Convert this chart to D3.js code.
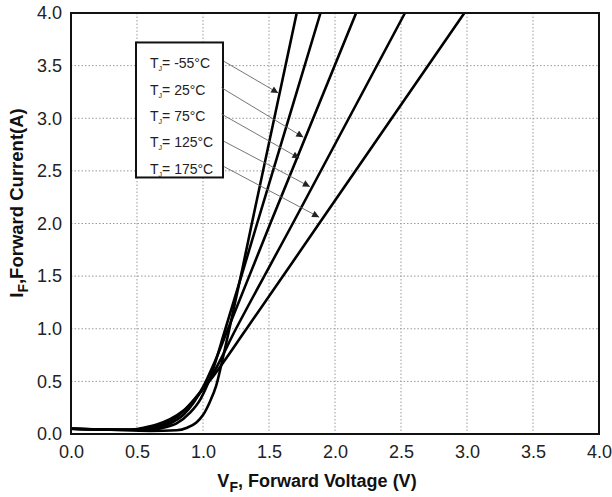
<!DOCTYPE html>
<html>
<head>
<meta charset="utf-8">
<script src="https://cdn.jsdelivr.net/npm/d3@7"></script>
<style>
  body { margin: 0; background: #fff; }
  svg { display: block; font-family: "Liberation Sans", Arial, sans-serif; }
</style>
</head>
<body>
<svg class="chart" width="612" height="497"></svg>
<script>
// forward voltage / current
var temps = ["-55", "25", "75", "125", "175"];

var vfM55  = [0, 0.3, 0.6, 0.8, 0.88, 0.95, 1.0, 1.05, 1.1, 1.15, 1.20, 1.30, 1.37, 1.71];
var ifM55  = [0.05, 0.04, 0.03, 0.035, 0.06, 0.11, 0.18, 0.30, 0.46, 0.72, 1.0, 1.58, 2.0, 4.0];
var vf25   = [0, 0.3, 0.6, 0.7, 0.8, 0.9, 0.98, 1.05, 1.17, 1.41, 1.89];
var if25   = [0.05, 0.04, 0.04, 0.06, 0.10, 0.20, 0.33, 0.52, 1.0, 2.0, 4.0];
var vf75   = [0, 0.55, 0.65, 0.75, 0.85, 0.93, 1.01, 1.08, 1.19, 1.51, 2.16];
var if75   = [0.05, 0.04, 0.06, 0.10, 0.18, 0.30, 0.47, 0.66, 1.0, 2.0, 4.0];
var vf125  = [0, 0.5, 0.6, 0.7, 0.8, 0.9, 0.98, 1.05, 1.25, 1.68, 2.53];
var if125  = [0.05, 0.04, 0.06, 0.09, 0.16, 0.28, 0.40, 0.52, 1.0, 2.0, 4.0];
var vf175  = [0, 0.45, 0.55, 0.65, 0.75, 0.85, 0.95, 1.06, 1.33, 1.88, 2.98];
var if175  = [0.05, 0.04, 0.06, 0.09, 0.14, 0.22, 0.35, 0.52, 1.0, 2.0, 4.0];

// legend arrows: start and tip in data units
var arrowFromV = [1.16, 1.14, 1.14, 1.16, 1.16];
var arrowFromI = [3.54, 3.29, 3.04, 2.78, 2.54];
var arrowToV   = [1.57, 1.76, 1.73, 1.81, 1.88];
var arrowToI   = [3.24, 2.82, 2.62, 2.35, 2.06];

var xTicks = [0, 0.5, 1.0, 1.5, 2.0, 2.5, 3.0, 3.5, 4.0];
var yTicks = [0, 0.5, 1.0, 1.5, 2.0, 2.5, 3.0, 3.5, 4.0];

var series = [
  d3.zip(vfM55, ifM55), d3.zip(vf25, if25), d3.zip(vf75, if75),
  d3.zip(vf125, if125), d3.zip(vf175, if175)
];

var margin = {top: 13, right: 13, bottom: 63, left: 71},
    width = 612 - margin.left - margin.right,
    height = 497 - margin.top - margin.bottom;

var svg = d3.select(".chart").append("g")
    .attr("transform", "translate(" + margin.left + "," + margin.top + ")");

var defs = d3.select(".chart").append("defs");
defs.append("marker")
    .attr("id", "head")
    .attr("viewBox", "0 0 10 10")
    .attr("refX", 10).attr("refY", 5)
    .attr("markerWidth", 9).attr("markerHeight", 7)
    .attr("markerUnits", "userSpaceOnUse")
    .attr("orient", "auto")
    .append("path").attr("d", "M0,0L10,5L0,10Z").attr("fill", "#222");

var x = d3.scaleLinear().domain([0, 4]).range([0, width]);
var y = d3.scaleLinear().domain([0, 4]).range([height, 0]);

// grid
svg.append("g").selectAll("line").data(xTicks.slice(1, -1)).enter().append("line")
    .attr("x1", x).attr("x2", x).attr("y1", 0).attr("y2", height)
    .attr("stroke", "#9a9a9a").attr("stroke-width", 1).attr("stroke-dasharray", "1.5,2");
svg.append("g").selectAll("line").data(yTicks.slice(1, -1)).enter().append("line")
    .attr("y1", y).attr("y2", y).attr("x1", 0).attr("x2", width)
    .attr("stroke", "#9a9a9a").attr("stroke-width", 1).attr("stroke-dasharray", "1.5,2");

// axes (labels only)
var xAxis = svg.append("g").attr("transform", "translate(0," + height + ")")
    .call(d3.axisBottom(x).tickValues(xTicks).tickFormat(d3.format(".1f")).tickSize(0).tickPadding(11));
var yAxis = svg.append("g")
    .call(d3.axisLeft(y).tickValues(yTicks).tickFormat(d3.format(".1f")).tickSize(0).tickPadding(9));
[xAxis, yAxis].forEach(function(a) {
    a.select(".domain").remove();
    a.selectAll("text").attr("font-size", 18).attr("fill", "#222")
        .attr("font-family", "Liberation Sans, Arial, sans-serif");
});

// curves
var line = d3.line()
    .x(function(d) { return x(d[0]); })
    .y(function(d) { return y(d[1]); })
    .curve(d3.curveMonotoneX);

svg.append("g").selectAll("path").data(series).enter().append("path")
    .attr("d", line)
    .attr("fill", "none")
    .attr("stroke", "#000")
    .attr("stroke-width", 2.6);

// frame
svg.append("rect")
    .attr("width", width).attr("height", height)
    .attr("fill", "none").attr("stroke", "#111").attr("stroke-width", 2);

// legend box
var lg = svg.append("g");
lg.append("rect")
    .attr("x", x(0.5) - 1).attr("y", y(3.72))
    .attr("width", 87).attr("height", 135)
    .attr("fill", "#fff").attr("stroke", "#111").attr("stroke-width", 2);

temps.forEach(function(t, i) {
    var ty = y(3.54) + 2 + i * 26.3;
    var txt = lg.append("text")
        .attr("x", x(0.5) + 13).attr("y", ty + 5)
        .attr("font-size", 14).attr("fill", "#222");
    txt.append("tspan").text("T");
    txt.append("tspan").attr("font-size", 7).attr("dy", 3).text("J");
    txt.append("tspan").attr("dy", -3).text("= " + t + "°C");
});

lg.selectAll("line.arrow").data(temps).enter().append("line")
    .attr("class", "arrow")
    .attr("x1", function(d, i) { return x(arrowFromV[i]); })
    .attr("y1", function(d, i) { return y(arrowFromI[i]); })
    .attr("x2", function(d, i) { return x(arrowToV[i]); })
    .attr("y2", function(d, i) { return y(arrowToI[i]); })
    .attr("stroke", "#666").attr("stroke-width", 0.9)
    .attr("marker-end", "url(#head)");

// axis titles
var xt = d3.select(".chart").append("text")
    .attr("x", 317).attr("y", 487)
    .attr("text-anchor", "middle")
    .attr("font-size", 18).attr("font-weight", "bold").attr("fill", "#111");
xt.append("tspan").text("V");
xt.append("tspan").attr("dy", 5).attr("font-size", 14).text("F");
xt.append("tspan").attr("dy", -5).text(", Forward Voltage (V)");

var yt = d3.select(".chart").append("text")
    .attr("transform", "translate(23,203) rotate(-90)")
    .attr("text-anchor", "middle")
    .attr("font-size", 18.5).attr("font-weight", "bold").attr("fill", "#111");
yt.append("tspan").text("I");
yt.append("tspan").attr("dy", 5).attr("font-size", 14).text("F");
yt.append("tspan").attr("dy", -5).text(",Forward Current(A)");
</script>
</body>
</html>
